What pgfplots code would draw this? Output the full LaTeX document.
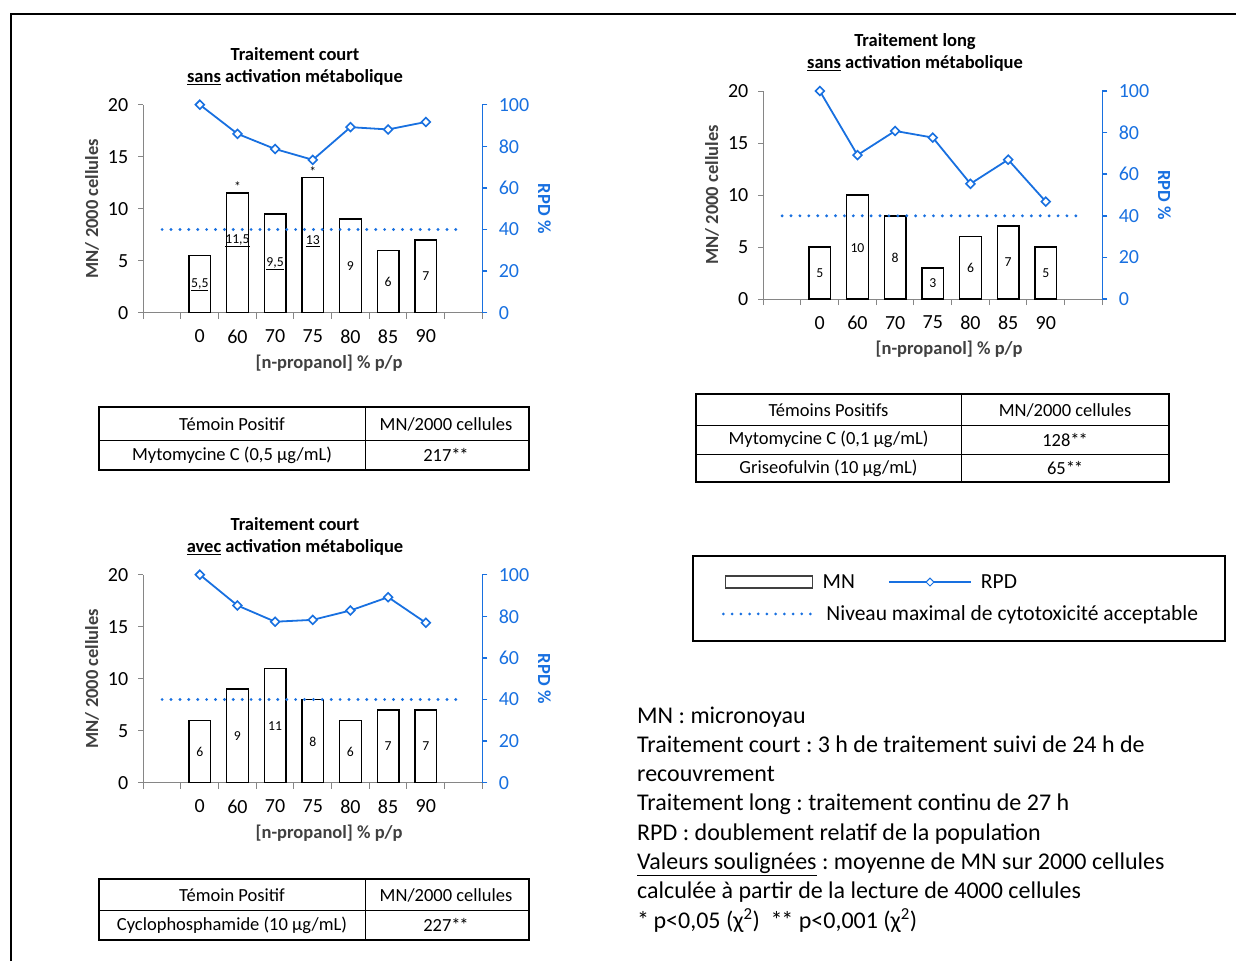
\documentclass[border=0pt]{standalone}
\usepackage{fontspec}
\setmainfont{Carlito}
\usepackage{pgfplots}
\pgfplotsset{compat=1.18}
\frenchspacing

\definecolor{rpdblue}{RGB}{24,112,224}
\definecolor{axgray}{RGB}{134,134,134}
\definecolor{lblgray}{RGB}{64,64,64}
\newcommand{\sst}{*\kern-1.2pt*}

\pgfplotsset{
  mnleft/.style={
    scale only axis, width=339pt, height=208pt, anchor=south west, clip=false,
    xmin=-0.5, xmax=8.5, ymin=0, ymax=20,
    axis x line=bottom, axis y line=left,
    axis line style={draw=axgray, line width=1pt, -},
    xtick={1,...,7}, xticklabels={0,60,70,75,80,85,90},
    minor xtick={-0.5,0.5,...,8.5},
    major x tick style={draw=none},
    minor x tick style={draw=axgray, line width=1pt},
    minor tick length=6pt,
    ytick={0,5,10,15,20},
    major y tick style={draw=axgray, line width=1pt},
    major tick length=5pt, tick align=outside,
    tick label style={font=\fontsize{20}{22}\selectfont, text=black},
    xticklabel style={yshift=-8.5pt},
    yticklabel style={xshift=-6.5pt},
    /pgf/number format/assume math mode=true,
    xlabel={[n-propanol] \% p/p},
    ylabel={MN/ 2000 cellules},
    every axis x label/.style={at={(axis description cs:0.548,0)}, anchor=center, yshift=-50.5pt,
      font=\bfseries\fontsize{18.5}{20}\selectfont, text=lblgray},
    every axis y label/.style={at={(axis description cs:-0.151,0.5)}, anchor=center, rotate=90,
      font=\bfseries\fontsize{18.5}{20}\selectfont, text=lblgray},
    every axis title/.style={at={(axis description cs:0.4475,1)}, anchor=south, yshift=19pt,
      align=center, inner sep=0pt, font=\bfseries\fontsize{18.5}{22.3}\selectfont},
  },
  rpdright/.style={
    scale only axis, width=339pt, height=208pt, anchor=south west, clip=false,
    xmin=-0.5, xmax=8.5, ymin=0, ymax=100,
    axis x line=none, axis y line=right,
    axis line style={draw=rpdblue, line width=1.6pt, -},
    xtick=\empty,
    ytick={0,20,...,100},
    major y tick style={draw=rpdblue, line width=1.5pt},
    major tick length=5pt, tick align=outside,
    yticklabel style={font=\fontsize{20}{22}\selectfont, text=rpdblue, xshift=8pt},
    /pgf/number format/assume math mode=true,
    ylabel={RPD \%},
    every axis y label/.style={at={(axis description cs:1.183,0.5)}, anchor=center, rotate=-90,
      font=\bfseries\fontsize{18.5}{20}\selectfont, text=rpdblue},
  },
  mnbar/.style={ybar, bar width=21.7pt, bar shift=0pt, draw=black, line width=1.5pt, fill=white},
  barlbl/.style={only marks, mark=*, mark size=0pt, mark options={draw=none, fill=none},
    nodes near coords, point meta=explicit symbolic,
    every node near coord/.append style={anchor=center, inner sep=0pt, text=black,
      font=\fontsize{13.7}{15}\selectfont}},
  starlbl/.style={only marks, mark=*, mark size=0pt, mark options={draw=none, fill=none},
    nodes near coords, point meta=explicit symbolic,
    every node near coord/.append style={anchor=south, inner sep=1pt, text=black,
      font=\fontsize{13.7}{15}\selectfont}},
  cytoline/.style={rpdblue, line width=3.2pt, line cap=round, dash pattern=on 0pt off 8.9pt},
  rpdline/.style={rpdblue, line width=1.8pt, mark=square*, mark size=3.1pt,
    mark options={rotate=45, fill=white, line width=1.6pt, solid}},
}

\begin{document}
\begin{tikzpicture}
\useasboundingbox (0pt,0pt) rectangle (1236pt,-961pt);

% ---------- Traitement court, sans activation
\begin{axis}[mnleft, at={(143.3pt,-312.7pt)},
  title={Traitement court\\\underline{sans} activation métabolique}]
\addplot[mnbar] coordinates {(1,5.5) (2,11.5) (3,9.5) (4,13) (5,9) (6,6) (7,7)};
\addplot[barlbl] coordinates {(1,2.7) [\underline{5,5}] (2,6.9) [\underline{11,5}] (3,4.7) [\underline{9,5}]
  (4,6.9) [\underline{13}] (5,4.45) [9] (6,3) [6] (7,3.5) [7]};
\addplot[starlbl] coordinates {(2,11.5) [*] (4,13) [*]};
\end{axis}
\begin{axis}[rpdright, at={(143.3pt,-312.7pt)}]
\addplot[cytoline] coordinates {(0,40) (1,40) (2,40) (3,40) (4,40) (5,40) (6,40) (7,40) (8,40)};
\addplot[rpdline] coordinates {(1,100) (2,86) (3,78.7) (4,73.5) (5,89.2) (6,88.1) (7,91.7)};
\end{axis}

% ---------- Traitement long, sans activation
\begin{axis}[mnleft, at={(763.3pt,-299pt)},
  title={Traitement long\\\underline{sans} activation métabolique}]
\addplot[mnbar] coordinates {(1,5) (2,10) (3,8) (4,3) (5,6) (6,7) (7,5)};
\addplot[barlbl] coordinates {(1,2.5) [5] (2,4.9) [10] (3,4) [8] (4,1.5) [3] (5,3) [6] (6,3.5) [7] (7,2.5) [5]};
\end{axis}
\begin{axis}[rpdright, at={(763.3pt,-299pt)}]
\addplot[cytoline] coordinates {(0,40) (1,40) (2,40) (3,40) (4,40) (5,40) (6,40) (7,40) (8,40)};
\addplot[rpdline] coordinates {(1,100) (2,69.2) (3,80.8) (4,77.6) (5,55.4) (6,67) (7,46.8)};
\end{axis}

% ---------- Traitement court, avec activation
\begin{axis}[mnleft, at={(143.3pt,-782.7pt)},
  title={Traitement court\\\underline{avec} activation métabolique}]
\addplot[mnbar] coordinates {(1,6) (2,9) (3,11) (4,8) (5,6) (6,7) (7,7)};
\addplot[barlbl] coordinates {(1,3) [6] (2,4.45) [9] (3,5.45) [11] (4,3.95) [8] (5,3) [6] (6,3.5) [7] (7,3.5) [7]};
\end{axis}
\begin{axis}[rpdright, at={(143.3pt,-782.7pt)}]
\addplot[cytoline] coordinates {(0,40) (1,40) (2,40) (3,40) (4,40) (5,40) (6,40) (7,40) (8,40)};
\addplot[rpdline] coordinates {(1,100) (2,85.2) (3,77.4) (4,78.3) (5,82.8) (6,89.2) (7,76.9)};
\end{axis}

% ---------- legend (two hidden axes)
\begin{axis}[at={(693pt,-641pt)}, anchor=south west, scale only axis, width=532pt, height=85pt,
  hide axis, xmin=0, xmax=1, ymin=0, ymax=1,
  legend columns=-1,
  legend style={at={(axis description cs:0.06,0.694)}, anchor=west, draw=none, fill=none,
    inner sep=0pt, column sep=0pt, font=\fontsize{21.5}{23}\selectfont,
    nodes={inner sep=0pt, anchor=west, text=black}}]
\addlegendimage{legend image code/.code={
  \draw[draw=lblgray, line width=1.2pt, fill=white] (0pt,-6pt) rectangle (87pt,6pt);
  \path[draw=none] (0pt,0pt) -- (97pt,0pt);}}
\addlegendentry{MN}
\addlegendimage{legend image code/.code={
  \path[draw=none] (-34pt,0pt) -- (92pt,0pt);
  \draw[mark repeat=2, mark phase=2, rpdblue, line width=1.1pt, mark=square*, mark size=2.8pt,
    mark options={rotate=45, fill=white, line width=1pt}] plot coordinates {(0pt,0pt) (41pt,0pt) (82pt,0pt)};}}
\addlegendentry{RPD}
\end{axis}
\begin{axis}[at={(693pt,-641pt)}, anchor=south west, scale only axis, width=532pt, height=85pt,
  hide axis, xmin=0, xmax=1, ymin=0, ymax=1,
  legend style={at={(axis description cs:0.054,0.318)}, anchor=west, draw=none, fill=none,
    inner sep=0pt, font=\fontsize{21.5}{23}\selectfont,
    nodes={inner sep=0pt, anchor=west, text=black}}]
\addlegendimage{legend image code/.code={
  \draw[rpdblue, line width=3pt, line cap=round, dash pattern=on 0pt off 8.7pt] (1pt,0pt) -- (96pt,0pt);
  \path[draw=none] (0pt,0pt) -- (104pt,0pt);}}
\addlegendentry{Niveau maximal de cytotoxicité acceptable}
\end{axis}

\begin{scope}[x=1pt, y=-1pt]
  % frame
  \draw[line width=2pt] (11,961) -- (11,14) -- (1236,14);
  % legend frame
  \draw[line width=1.7pt] (693,556) rectangle (1225,641);

  % tables
  \tikzset{tbl/.style={font=\fontsize{18.5}{20}\selectfont, inner sep=0pt, anchor=center}}
  \draw[line width=1.7pt] (99,406.7) rectangle (529,470);
  \draw[line width=1pt] (99,440) -- (529,440) (365,406.7) -- (365,470);
  \node[tbl] at (232,424) {Témoin Positif};
  \node[tbl] at (446,424) {MN/2000 cellules};
  \node[tbl] at (232,455) {Mytomycine C (0,5 µg/mL)};
  \node[tbl] at (446,455) {217\sst};

  \draw[line width=1.7pt] (696,394) rectangle (1169,482);
  \draw[line width=1pt] (696,425) -- (1169,425) (696,454) -- (1169,454) (961,394) -- (961,482);
  \node[tbl] at (828.5,410) {Témoins Positifs};
  \node[tbl] at (1065,410) {MN/2000 cellules};
  \node[tbl] at (828.5,439.5) {Mytomycine C (0,1 µg/mL)};
  \node[tbl] at (1065,439.5) {128\sst};
  \node[tbl] at (828.5,468) {Griseofulvin (10 µg/mL)};
  \node[tbl] at (1065,468) {65\sst};

  \draw[line width=1.7pt] (99,879) rectangle (529,940);
  \draw[line width=1pt] (99,910) -- (529,910) (365,879) -- (365,940);
  \node[tbl] at (232,895) {Témoin Positif};
  \node[tbl] at (446,895) {MN/2000 cellules};
  \node[tbl] at (232,925) {Cyclophosphamide (10 µg/mL)};
  \node[tbl] at (446,925) {227\sst};

  % notes
  \tikzset{note/.style={font=\fontsize{24}{27}\selectfont, inner sep=0pt, anchor=base west}}
  \node[note] at (637,723) {MN : micronoyau};
  \node[note] at (637,752.3) {Traitement court : 3 h de traitement suivi de 24 h de};
  \node[note] at (637,781.6) {recouvrement};
  \node[note] at (637,810.9) {Traitement long : traitement continu de 27 h};
  \node[note] at (637,840.2) {RPD : doublement relatif de la population};
  \node[note] at (637,869.5) {\underline{Valeurs soulignées} : moyenne de MN sur 2000 cellules};
  \node[note] at (637,898.8) {calculée à partir de la lecture de 4000 cellules};
  \node[note] at (637,928.1) {*\kern-1pt\ p<0,05 (χ\textsuperscript{2})\ \ \sst\ p<0,001 (χ\textsuperscript{2})};
\end{scope}
\end{tikzpicture}
\end{document}
